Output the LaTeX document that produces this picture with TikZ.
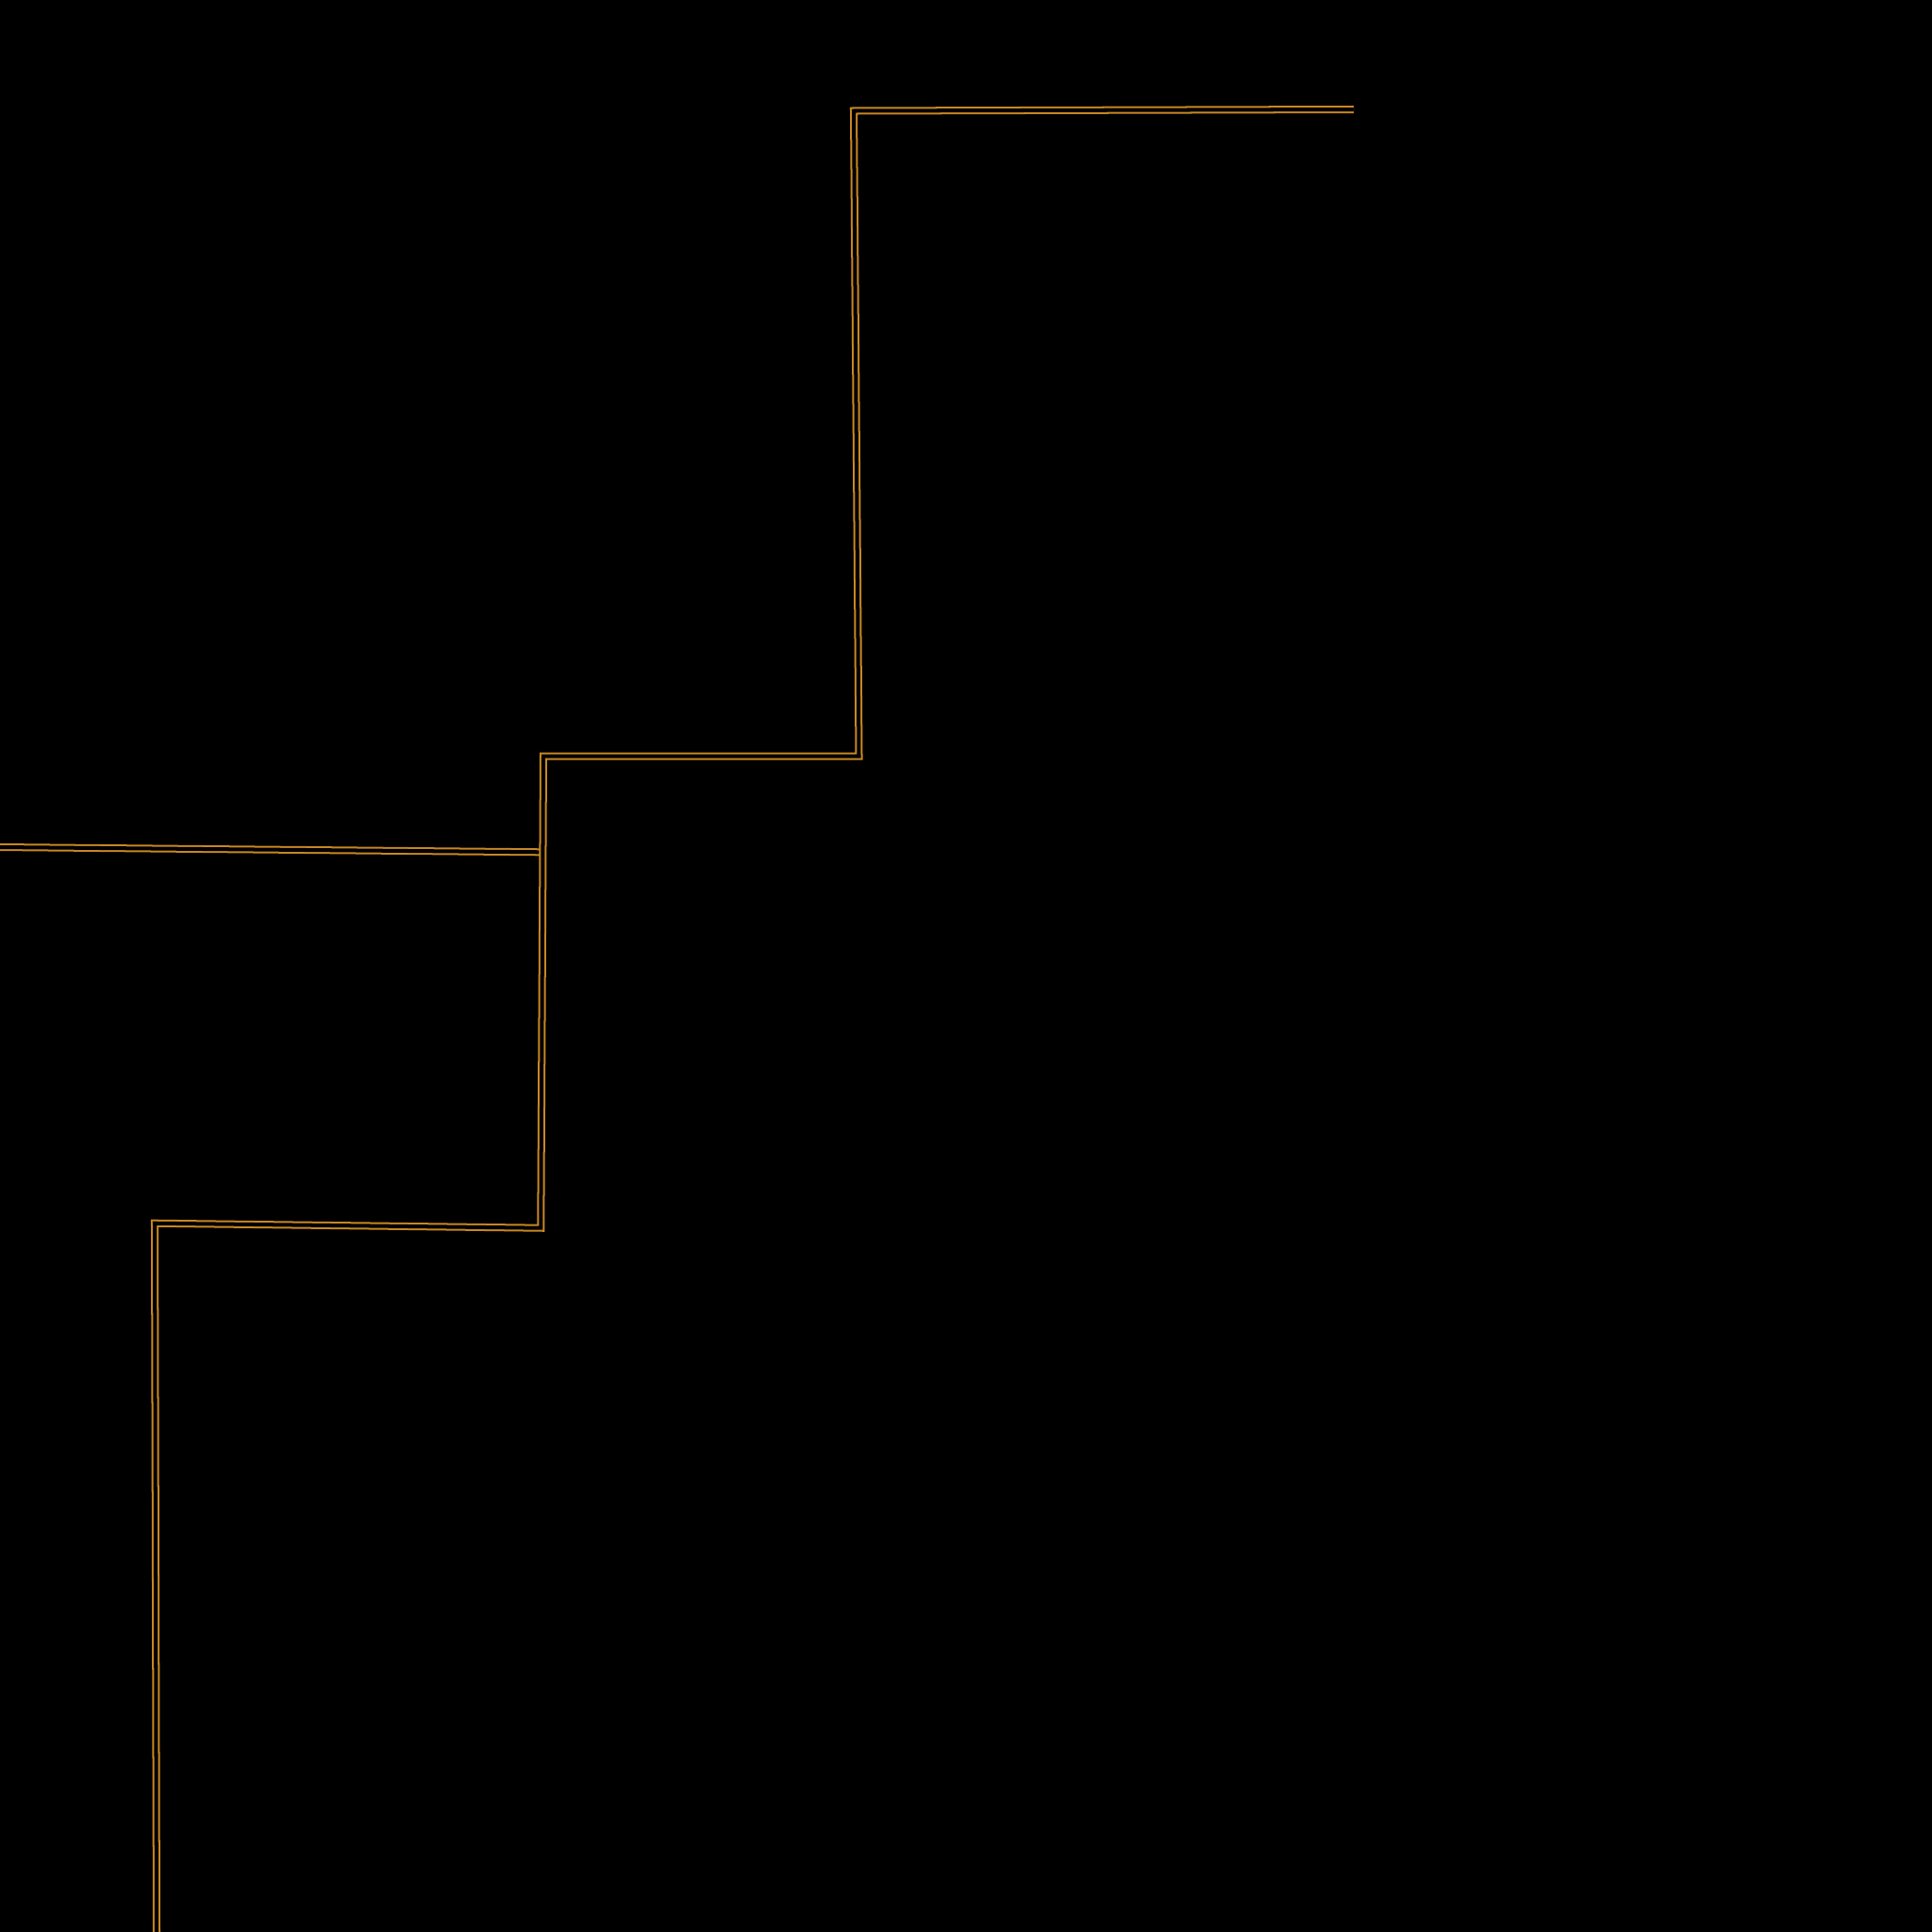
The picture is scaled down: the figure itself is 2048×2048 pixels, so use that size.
\documentclass[tikz,border=0pt]{standalone}
\definecolor{pipe}{RGB}{200,135,35}
\begin{document}
\begin{tikzpicture}[x=0.01cm,y=-0.01cm,
  pipeline/.style={draw=pipe,line width=0.57pt,double=black,double distance=1.14pt,line join=miter,line cap=butt}]
\fill[black] (0,0) rectangle (2048,2048);
\useasboundingbox (0,0) rectangle (2048,2048);
\coordinate (a) at (1435,116);
\coordinate (b) at (905,117.5);
\coordinate (c) at (910.5,801.5);
\coordinate (d) at (576,801.5);
\coordinate (e) at (573.3,1301.7);
\coordinate (f) at (164,1296.7);
\coordinate (g) at (166,2049);
\coordinate (h) at (-1,898);
\coordinate (j) at (575,903.3);
\draw[pipeline] (h) -- (j);
\draw[pipeline] (a) -- (b) -- (c) -- (d) -- (e) -- (f) -- (g);
\end{tikzpicture}
\end{document}
